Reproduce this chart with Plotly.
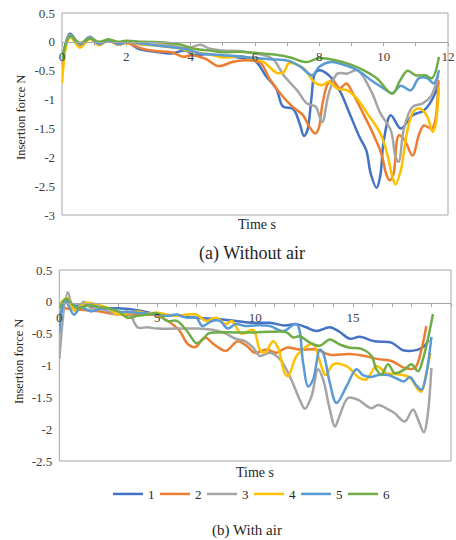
import plotly.graph_objects as go

# ---------------- (a) Without air ----------------
ta1 = [0, 0.25, 0.56, 0.87, 1.15, 1.44, 1.75, 2.0, 2.38, 2.9, 3.4, 3.83, 4.1, 4.5, 5.0, 5.5, 6.0, 6.35, 6.66, 6.87, 7.18, 7.39, 7.52, 7.62, 7.75, 7.86, 8.0, 8.3, 8.63, 8.94, 9.25, 9.46, 9.6, 9.78, 9.9, 10.0, 10.22, 10.53, 10.9, 11.25, 11.62, 11.7]
fa1 = [-0.4, 0.14, -0.05, 0.09, -0.05, 0.04, -0.05, 0.0, -0.12, -0.17, -0.2, -0.15, -0.23, -0.21, -0.25, -0.27, -0.33, -0.6, -0.81, -1.12, -1.16, -1.42, -1.63, -1.55, -1.0, -0.55, -0.49, -0.58, -0.84, -1.24, -1.65, -1.88, -2.29, -2.53, -2.3, -1.72, -1.27, -1.5, -1.27, -1.19, -0.87, -0.69]

ta2 = [0, 0.25, 0.56, 0.87, 1.15, 1.44, 1.75, 2.0, 2.5, 2.9, 3.4, 3.78, 4.0, 4.45, 4.87, 5.29, 5.7, 6.0, 6.2, 6.45, 6.87, 7.18, 7.49, 7.7, 7.88, 7.98, 8.1, 8.27, 8.42, 8.63, 8.84, 9.05, 9.36, 9.67, 9.93, 10.08, 10.18, 10.3, 10.47, 10.65, 10.9, 11.1, 11.25, 11.5, 11.7]
fa2 = [-0.45, 0.1, -0.06, 0.08, -0.05, 0.03, -0.05, -0.02, -0.12, -0.16, -0.18, -0.26, -0.23, -0.29, -0.42, -0.35, -0.32, -0.33, -0.38, -0.64, -0.95, -1.13, -1.27, -1.48, -1.59, -1.5, -1.07, -0.72, -0.67, -0.81, -0.72, -0.9, -1.24, -1.59, -1.94, -2.29, -2.4, -2.3, -1.62, -1.7, -1.97, -1.6, -1.45, -1.5, -0.66]

ta3 = [0, 0.25, 0.56, 0.87, 1.15, 1.44, 1.75, 2.0, 2.5, 3.3, 3.7, 4.0, 4.3, 4.6, 5.0, 5.5, 6.0, 6.4, 6.6, 6.89, 7.31, 7.62, 7.88, 8.09, 8.29, 8.56, 8.87, 9.18, 9.6, 9.9, 10.22, 10.37, 10.47, 10.62, 10.89, 11.2, 11.46, 11.7]
fa3 = [-0.35, 0.12, -0.03, 0.08, -0.03, 0.04, -0.04, 0.0, -0.05, -0.05, -0.1, -0.1, -0.05, -0.12, -0.15, -0.16, -0.2, -0.25, -0.32, -0.58, -0.84, -1.07, -1.12, -1.39, -0.9, -0.55, -0.55, -0.49, -0.84, -1.24, -1.53, -1.99, -2.08, -1.53, -1.13, -1.07, -0.95, -0.58]

ta4 = [0, 0.25, 0.56, 0.87, 1.15, 1.44, 1.75, 2.0, 2.5, 3.2, 3.7, 4.1, 4.6, 5.0, 5.5, 6.0, 6.27, 6.69, 6.9, 7.05, 7.52, 7.83, 8.09, 8.29, 8.56, 8.87, 9.18, 9.49, 9.9, 10.11, 10.27, 10.37, 10.53, 10.74, 10.94, 11.15, 11.36, 11.52, 11.6, 11.72]
fa4 = [-0.72, 0.08, -0.1, 0.05, -0.06, 0.02, -0.05, 0.0, -0.04, -0.08, -0.12, -0.18, -0.22, -0.27, -0.25, -0.3, -0.35, -0.54, -0.52, -0.37, -0.46, -0.69, -0.75, -0.69, -0.81, -0.84, -0.99, -1.24, -1.59, -1.94, -2.34, -2.47, -2.23, -1.53, -1.19, -1.16, -1.3, -1.56, -1.47, -0.78]

ta5 = [0, 0.25, 0.56, 0.87, 1.15, 1.44, 1.75, 2.0, 2.5, 3.2, 3.8, 4.3, 5.0, 5.5, 6.0, 6.5, 7.05, 7.41, 7.78, 8.0, 8.35, 8.66, 9.18, 9.6, 10.01, 10.27, 10.53, 10.84, 11.1, 11.36, 11.56, 11.72]
fa5 = [-0.3, 0.1, -0.04, 0.07, -0.04, 0.03, -0.04, 0.0, -0.03, -0.08, -0.12, -0.2, -0.23, -0.25, -0.28, -0.3, -0.33, -0.43, -0.58, -0.43, -0.35, -0.38, -0.49, -0.66, -0.81, -0.89, -0.76, -0.84, -0.63, -0.63, -0.72, -0.49]

ta6 = [0, 0.25, 0.56, 0.87, 1.15, 1.44, 1.75, 2.0, 2.5, 3.2, 3.7, 4.1, 4.6, 5.0, 5.5, 6.0, 6.6, 7.1, 7.6, 8.0, 8.5, 9.0, 9.4, 9.8, 10.27, 10.5, 10.74, 11.0, 11.3, 11.5, 11.72]
fa6 = [-0.3, 0.1, -0.02, 0.06, 0.0, 0.04, 0.0, 0.02, 0.0, -0.01, -0.05, -0.12, -0.15, -0.18, -0.17, -0.19, -0.22, -0.27, -0.35, -0.28, -0.32, -0.4, -0.5, -0.64, -0.9, -0.68, -0.5, -0.58, -0.58, -0.63, -0.26]

# ---------------- (b) With air ----------------
tb1 = [0, 0.35, 0.8, 1.3, 2.0, 3.0, 4.0, 5.0, 6.0, 7.0, 8.0, 9.0, 9.9, 10.75, 11.5, 12.11, 12.6, 13.13, 13.81, 14.3, 14.83, 15.34, 16.1, 16.96, 17.55, 18.32, 18.66, 18.85]
fb1 = [-0.3, 0.02, -0.06, -0.05, -0.1, -0.1, -0.13, -0.2, -0.22, -0.25, -0.27, -0.3, -0.33, -0.33, -0.37, -0.35, -0.4, -0.46, -0.4, -0.47, -0.58, -0.55, -0.62, -0.64, -0.76, -0.75, -0.69, -0.6]

tb2 = [0, 0.3, 1.0, 2.0, 3.0, 4.0, 5.0, 6.07, 6.58, 6.95, 7.43, 7.9, 8.5, 9.1, 9.56, 9.98, 10.58, 11.09, 11.6, 12.28, 13.13, 13.81, 14.83, 15.6, 16.28, 16.96, 17.64, 18.15, 18.49, 18.74]
fb2 = [-0.08, -0.1, -0.12, -0.15, -0.2, -0.2, -0.22, -0.43, -0.67, -0.71, -0.56, -0.67, -0.77, -0.62, -0.69, -0.8, -0.75, -0.8, -0.72, -0.75, -0.75, -0.83, -0.82, -0.85, -0.9, -0.93, -1.04, -1.04, -0.75, -0.38]

tb3 = [0, 0.43, 0.65, 0.95, 1.25, 1.6, 2.0, 2.5, 3.0, 3.5, 4.0, 4.5, 5.0, 6.0, 7.0, 8.0, 8.5, 9.0, 9.5, 9.9, 10.24, 10.75, 11.26, 11.77, 12.28, 12.54, 12.88, 13.21, 13.47, 13.81, 14.07, 14.3, 14.75, 15.26, 15.94, 16.28, 16.79, 17.13, 17.64, 18.06, 18.32, 18.62, 18.8, 19.0]
fb3 = [-0.9, 0.15, -0.05, -0.1, 0.0, -0.1, -0.1, -0.15, -0.2, -0.15, -0.4, -0.4, -0.42, -0.42, -0.42, -0.45, -0.5, -0.58, -0.62, -0.72, -0.85, -0.8, -0.9, -1.17, -1.54, -1.68, -1.48, -1.06, -1.22, -1.69, -1.96, -1.8, -1.51, -1.54, -1.67, -1.62, -1.69, -1.75, -1.88, -1.69, -1.85, -2.05, -1.8, -1.04]

tb4 = [0, 0.4, 0.8, 1.3, 2.0, 2.5, 3.0, 3.5, 4.0, 4.5, 5.0, 5.5, 6.0, 6.5, 7.0, 7.5, 8.0, 8.5, 8.8, 9.3, 9.9, 10.24, 10.5, 10.92, 11.17, 11.51, 11.68, 12.11, 12.54, 12.95, 13.38, 13.6, 14.0, 14.66, 15.34, 15.68, 16.19, 16.7, 17.38, 17.9, 18.32, 18.49, 18.75, 18.95]
fb4 = [-0.05, 0.06, -0.14, -0.02, -0.05, -0.1, -0.2, -0.18, -0.15, -0.18, -0.17, -0.2, -0.22, -0.2, -0.2, -0.3, -0.25, -0.35, -0.3, -0.5, -0.44, -0.75, -0.8, -0.62, -0.72, -1.12, -1.17, -0.85, -0.72, -0.66, -1.01, -1.15, -0.98, -1.01, -1.2, -1.22, -1.01, -1.12, -1.14, -1.19, -1.38, -1.41, -1.1, -0.8]

tb5 = [0, 0.3, 0.75, 1.1, 1.6, 2.0, 2.5, 3.0, 4.0, 5.0, 5.5, 6.0, 6.5, 7.0, 7.3, 7.8, 8.2, 8.6, 9.0, 9.5, 10.0, 10.75, 11.43, 12.11, 12.45, 12.7, 12.96, 13.3, 13.47, 13.81, 14.15, 14.66, 15.17, 15.5, 15.9, 16.3, 16.8, 17.2, 17.6, 17.9, 18.2, 18.5, 18.7, 19.0]
fb5 = [-0.5, 0.02, -0.2, -0.08, -0.15, -0.12, -0.1, -0.15, -0.17, -0.2, -0.22, -0.2, -0.25, -0.25, -0.38, -0.3, -0.3, -0.42, -0.35, -0.38, -0.37, -0.38, -0.46, -0.35, -0.96, -1.33, -1.22, -0.75, -0.8, -1.27, -1.59, -1.33, -1.06, -1.15, -1.18, -1.15, -1.15, -1.2, -1.25, -1.18, -1.3, -1.38, -1.2, -0.55]

tb6 = [0, 0.35, 0.7, 1.0, 1.5, 2.0, 2.5, 3.0, 3.5, 4.0, 4.5, 5.0, 5.5, 6.0, 6.5, 7.0, 7.3, 7.6, 8.0, 9.0, 10.0, 10.75, 11.6, 11.94, 12.28, 12.79, 13.3, 13.81, 14.32, 14.83, 15.43, 15.94, 16.19, 16.45, 16.79, 17.13, 17.64, 17.98, 18.32, 18.57, 19.08]
fb6 = [-0.1, 0.05, -0.05, -0.1, -0.05, -0.08, -0.1, -0.15, -0.25, -0.22, -0.2, -0.18, -0.3, -0.3, -0.45, -0.65, -0.6, -0.5, -0.48, -0.48, -0.48, -0.47, -0.48, -0.56, -0.54, -0.64, -0.69, -0.59, -0.67, -0.72, -0.74, -0.85, -1.06, -1.14, -0.98, -1.12, -1.06, -0.98, -1.09, -0.9, -0.19]

names = ["1", "2", "3", "4", "5", "6"]
colors = ["#4472C4", "#ED7D31", "#A5A5A5", "#FFC000", "#5B9BD5", "#70AD47"]

top_t = [ta1, ta2, ta3, ta4, ta5, ta6]
top_f = [fa1, fa2, fa3, fa4, fa5, fa6]
bot_t = [tb1, tb2, tb3, tb4, tb5, tb6]
bot_f = [fb1, fb2, fb3, fb4, fb5, fb6]

x_ticks_a = list(range(0, 13))
x_text_a = [str(v) if v % 2 == 0 else "" for v in x_ticks_a]
x_ticks_b = list(range(0, 21))
x_text_b = [str(v) if v % 5 == 0 else "" for v in x_ticks_b]
y_ticks_a = [0.5, 0, -0.5, -1, -1.5, -2, -2.5, -3]
y_ticks_b = [0.5, 0, -0.5, -1, -1.5, -2, -2.5]

W, H = 456, 540
FONT = "Liberation Serif"

fig = go.Figure()
for i in range(6):
    fig.add_trace(go.Scatter(x=top_t[i], y=top_f[i], mode="lines", name=names[i],
                             line=dict(color=colors[i], width=2.5, shape="spline", smoothing=1.0),
                             xaxis="x", yaxis="y", showlegend=False))
for i in range(6):
    fig.add_trace(go.Scatter(x=bot_t[i], y=bot_f[i], mode="lines", name=names[i],
                             line=dict(color=colors[i], width=2.5, shape="spline", smoothing=1.0),
                             xaxis="x2", yaxis="y2", showlegend=True))

def px_x(p):
    return p / W

def px_y(p):
    return (H - p) / H

axis_col = "#A6A6A6"
tickfont = dict(family=FONT, size=13, color="#404040")

fig.update_layout(
    width=W, height=H,
    margin=dict(l=0, r=0, t=0, b=0, autoexpand=False),
    paper_bgcolor="white", plot_bgcolor="white",
    font=dict(family=FONT, color="#262626"),
    xaxis=dict(domain=[px_x(62), px_x(448)], range=[0, 12], anchor="free", position=px_y(41.7),
               tickvals=x_ticks_a, ticktext=x_text_a, showgrid=False, zeroline=False,
               showline=True, linecolor=axis_col, linewidth=1, ticks="outside", ticklen=3,
               tickcolor=axis_col, tickfont=tickfont, automargin=False),
    yaxis=dict(domain=[px_y(215), px_y(13)], range=[-3, 0.5], anchor="x",
               tickvals=y_ticks_a, ticktext=[str(v) for v in y_ticks_a], showgrid=False,
               zeroline=False, showline=False, ticks="", ticklabelstandoff=6, tickfont=tickfont,
               automargin=False),
    xaxis2=dict(domain=[px_x(59.3), px_x(451)], range=[0, 20], anchor="free", position=px_y(302.7),
                tickvals=x_ticks_b, ticktext=x_text_b, showgrid=False, zeroline=False,
                showline=True, linecolor=axis_col, linewidth=1, ticks="outside", ticklen=3,
                tickcolor=axis_col, tickfont=tickfont, automargin=False),
    yaxis2=dict(domain=[px_y(461), px_y(270)], range=[-2.5, 0.5], anchor="x2",
                tickvals=y_ticks_b, ticktext=[str(v) for v in y_ticks_b], showgrid=False,
                zeroline=False, showline=False, ticks="", ticklabelstandoff=6, tickfont=tickfont,
                automargin=False),
    legend=dict(orientation="h", x=px_x(108), y=px_y(494), xanchor="left", yanchor="middle",
                entrywidth=2, entrywidthmode="pixels", font=dict(family=FONT, size=13, color="#262626"),
                bgcolor="rgba(0,0,0,0)", tracegroupgap=0, itemwidth=30),
)

# plot-area borders
for xr, yr in (("x domain", "y domain"), ("x2 domain", "y2 domain")):
    fig.add_shape(type="rect", xref=xr, yref=yr, x0=0, x1=1, y0=0, y1=1,
                  line=dict(color=axis_col, width=1), fillcolor="rgba(0,0,0,0)", layer="below")

ann_font = dict(family=FONT, size=14, color="#262626")
fig.add_annotation(text="Time s", x=px_x(257), y=px_y(224), xref="paper", yref="paper",
                   showarrow=False, font=ann_font, xanchor="center", yanchor="middle")
fig.add_annotation(text="Time s", x=px_x(255), y=px_y(472), xref="paper", yref="paper",
                   showarrow=False, font=ann_font, xanchor="center", yanchor="middle")
yt_font = dict(family=FONT, size=12.5, color="#262626")
fig.add_annotation(text="Insertion force N", x=px_x(21), y=px_y(118), xref="paper", yref="paper",
                   showarrow=False, font=yt_font, textangle=-90, xanchor="center", yanchor="middle")
fig.add_annotation(text="Insertion force N", x=px_x(19), y=px_y(362), xref="paper", yref="paper",
                   showarrow=False, font=yt_font, textangle=-90, xanchor="center", yanchor="middle")
fig.add_annotation(text="(a) Without air", x=px_x(252), y=px_y(253), xref="paper", yref="paper",
                   showarrow=False, font=dict(family=FONT, size=18, color="#262626"),
                   xanchor="center", yanchor="middle")
fig.add_annotation(text="(b) With air", x=px_x(247), y=px_y(530), xref="paper", yref="paper",
                   showarrow=False, font=dict(family=FONT, size=15, color="#262626"),
                   xanchor="center", yanchor="middle")

fig.write_html("out.html", config={"displayModeBar": False},
               post_script="document.body.style.margin='0';document.body.style.overflow='hidden';")
